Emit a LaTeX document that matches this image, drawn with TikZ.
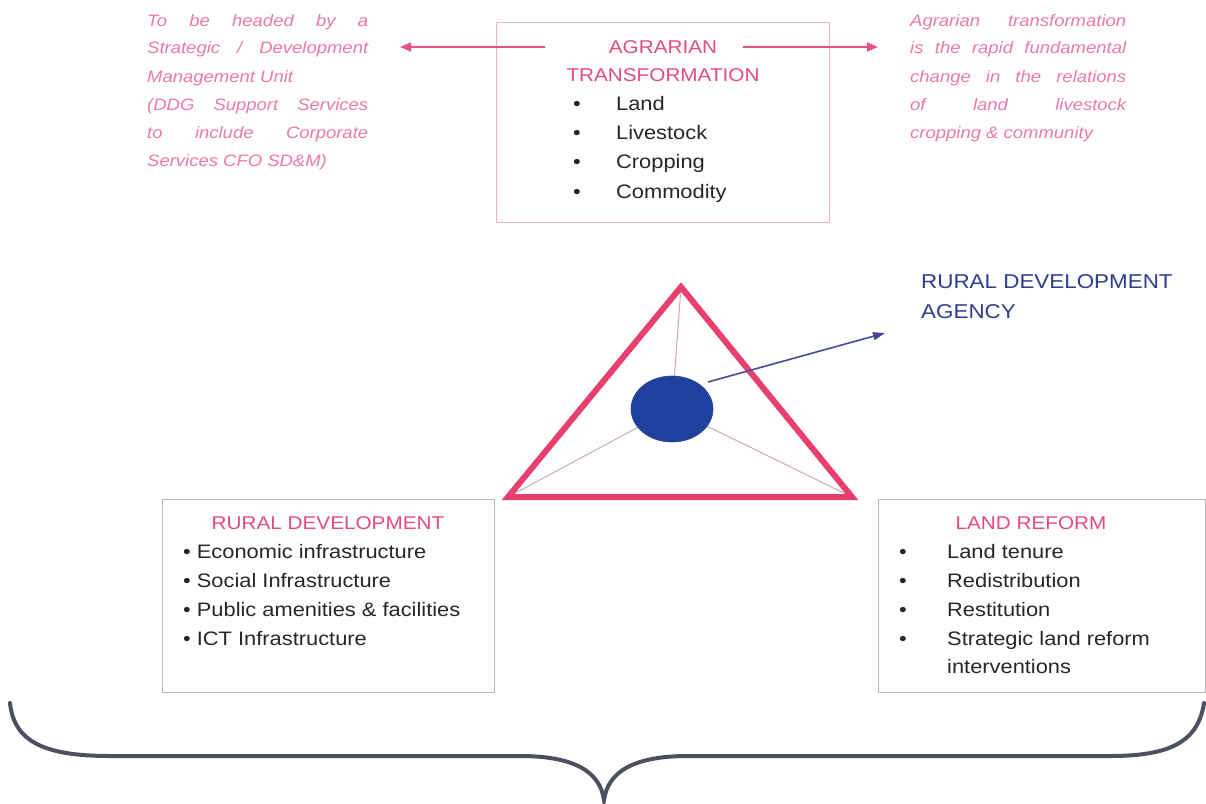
\documentclass[tikz,border=0pt]{standalone}
\usepackage{fontspec}
\setmainfont{Liberation Sans}[FakeStretch=1.12]
\usetikzlibrary{arrows.meta,shapes.geometric}
\definecolor{pinkT}{HTML}{E24B82}
\definecolor{pinkS}{HTML}{EC78AC}
\definecolor{pinkA}{HTML}{E9508B}
\definecolor{triRed}{HTML}{E8406E}
\definecolor{bodyC}{HTML}{262626}
\definecolor{hubBlue}{HTML}{213F9C}
\definecolor{agencyC}{HTML}{2F3C8E}
\definecolor{agArrow}{HTML}{4A4A9A}
\definecolor{braceC}{HTML}{4D5060}
\definecolor{boxPink}{HTML}{E8B4C4}
\definecolor{boxGrey}{HTML}{BBBBBB}
\definecolor{spokeC}{HTML}{C8A8B8}
\tikzset{
  panel/.style={draw, line width=1pt, anchor=north west, inner sep=0pt},
  ttl/.style={text=pinkT, anchor=base, inner sep=0pt, font=\fontsize{18.5}{20}\selectfont},
  item/.style={text=bodyC, anchor=base west, inner sep=0pt, font=\fontsize{19.5}{22}\selectfont},
  side/.style={text=pinkS, anchor=base west, inner sep=0pt, align=justify,
    font=\fontsize{16.5}{28}\selectfont\itshape},
  pinkarrow/.style={draw=pinkA, line width=2pt, -{Triangle[length=11pt,width=9pt]}},
}
\begin{document}
\begin{tikzpicture}[x=1pt,y=-1pt]
\useasboundingbox (0,0) rectangle (1206,803);

% ---- top box
\node[panel, draw=boxPink, minimum width=333pt, minimum height=200pt] (topbox) at (496,22) {};
\node[ttl] (t1) at (663,53) {AGRARIAN};
\node[ttl] (t2) at (663,81) {TRANSFORMATION};
\node[item] (tl1) at (573,110) {\makebox[43pt][l]{\textbullet}Land};
\node[item] (tl2) at (573,139) {\makebox[43pt][l]{\textbullet}Livestock};
\node[item] (tl3) at (573,168) {\makebox[43pt][l]{\textbullet}Cropping};
\node[item] (tl4) at (573,198) {\makebox[43pt][l]{\textbullet}Commodity};

% ---- side texts
\node[side, text width=221pt] (lefttxt) at (147,26)
  {To be headed by a\linebreak Strategic / Development\linebreak Management Unit\\
   (DDG Support Services\linebreak to include Corporate\linebreak Services CFO SD\&M)};
\node[side, text width=216pt] (righttxt) at (910,26)
  {Agrarian transformation\linebreak is the rapid fundamental\linebreak change in the relations\linebreak of land livestock\linebreak cropping \& community};

\coordinate (la0) at (545,47);
\coordinate (la1) at (400,47);
\coordinate (ra0) at (743,47);
\coordinate (ra1) at (878,47);
\draw[pinkarrow] (la0) -- (la1);
\draw[pinkarrow] (ra0) -- (ra1);

% ---- triangle
\coordinate (A) at (681,287);
\coordinate (B) at (508,497);
\coordinate (C) at (852,497);
\coordinate (hubc) at (672,409);
\draw[spokeC, line width=1pt] (hubc) -- (A);
\draw[spokeC, line width=1pt] (hubc) -- (B);
\draw[spokeC, line width=1pt] (hubc) -- (C);
\node[ellipse, fill=hubBlue, draw=hubBlue, line width=0.6pt,
      minimum width=82pt, minimum height=66pt, inner sep=0pt] (hub) at (hubc) {};
\draw[triRed, line width=6pt, line join=miter] (A) -- (B) -- (C) -- cycle;

% ---- agency
\coordinate (agstart) at (708,382);
\coordinate (agtip) at (885,333);
\draw[agArrow, line width=1.6pt, -{Triangle[length=12pt,width=8pt]}] (agstart) -- (agtip);
\node[anchor=base west, inner sep=0pt, align=left, text=agencyC,
      font=\fontsize{20}{30}\selectfont] (agency) at (921,318)
  {RURAL DEVELOPMENT\\AGENCY};

% ---- bottom left box
\node[panel, draw=boxGrey, minimum width=332pt, minimum height=193pt] (rdbox) at (162,499) {};
\node[ttl] (rdt) at (328,529) {RURAL DEVELOPMENT};
\node[item] (rd1) at (183,558) {\textbullet\ Economic infrastructure};
\node[item] (rd2) at (183,587) {\textbullet\ Social Infrastructure};
\node[item] (rd3) at (183,616) {\textbullet\ Public amenities \& facilities};
\node[item] (rd4) at (183,645) {\textbullet\ ICT Infrastructure};

% ---- bottom right box
\node[panel, draw=boxGrey, minimum width=327pt, minimum height=193pt] (lrbox) at (878,499) {};
\node[ttl] (lrt) at (1031,529) {LAND REFORM};
\node[item] (lr1) at (899,558) {\makebox[48pt][l]{\textbullet}Land tenure};
\node[item] (lr2) at (899,587) {\makebox[48pt][l]{\textbullet}Redistribution};
\node[item] (lr3) at (899,616) {\makebox[48pt][l]{\textbullet}Restitution};
\node[item] (lr4) at (899,645) {\makebox[48pt][l]{\textbullet}Strategic land reform};
\node[item] (lr5) at (947,673) {interventions};

% ---- brace
\draw[braceC, line width=4pt, line cap=round]
  (10,703) .. controls (14,742) and (45,756) .. (110,756)
  -- (520,756) .. controls (575,756) and (600,772) .. (604,800)
  .. controls (608,772) and (633,756) .. (688,756)
  -- (1110,756) .. controls (1170,756) and (1198,742) .. (1204,703);
\end{tikzpicture}
\end{document}
